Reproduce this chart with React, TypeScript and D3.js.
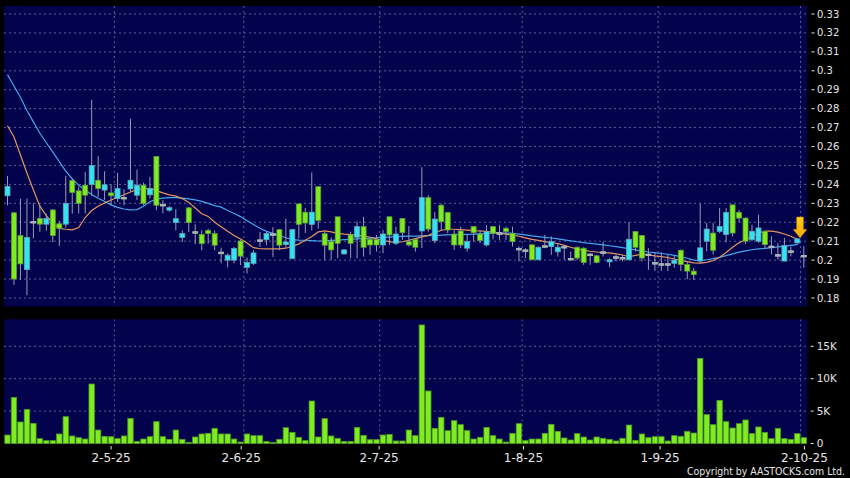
import React from 'react';
import * as d3 from 'd3';

const W = 850;
const H = 478;

// OHLC per trading day (index 0 = first bar)
const opens = [
  0.234, 0.225, 0.213, 0.195, 0.22, 0.222, 0.219, 0.2265, 0.2192, 0.219,
  0.242, 0.2366, 0.2396, 0.24, 0.2422, 0.237, 0.2355, 0.2325, 0.2327, 0.2376,
  0.2343, 0.2396, 0.2345, 0.2547, 0.229, 0.2264, 0.2198, 0.212, 0.2276, 0.2146,
  0.2136, 0.2157, 0.214, 0.2038, 0.2, 0.2, 0.2101, 0.1962, 0.1983, 0.2103,
  0.2108, 0.2135, 0.2161, 0.2082, 0.2009, 0.2297, 0.2253, 0.2189, 0.2388, 0.214,
  0.2098, 0.2229, 0.2033, 0.2133, 0.2121, 0.2177, 0.211, 0.211, 0.208, 0.2229,
  0.2089, 0.222, 0.2098, 0.211, 0.2154, 0.233, 0.2103, 0.229, 0.2252, 0.2138,
  0.2154, 0.2063, 0.2177, 0.2138, 0.208, 0.2177, 0.214, 0.2168, 0.2142, 0.2058,
  0.205, 0.2081, 0.2002, 0.2072, 0.2072, 0.2044, 0.2068, 0.2005, 0.2068, 0.2063,
  0.2028, 0.2023, 0.204, 0.1991, 0.2014, 0.201, 0.2002, 0.2151, 0.213, 0.2028,
  0.1983, 0.1977, 0.1977, 0.1983, 0.2052, 0.1977, 0.1942, 0.1995, 0.21, 0.2143,
  0.2152, 0.2135, 0.2292, 0.2252, 0.2222, 0.2108, 0.21, 0.2152, 0.207, 0.2025,
  0.1995, 0.2045, 0.2091, 0.2021,
];
const highs = [
  0.2445, 0.2255, 0.2325, 0.2325, 0.23, 0.229, 0.2245, 0.227, 0.2208, 0.2445,
  0.243, 0.2387, 0.2466, 0.2847, 0.2549, 0.247, 0.2401, 0.2461, 0.2375, 0.2747,
  0.2478, 0.241, 0.244, 0.2547, 0.2317, 0.2285, 0.227, 0.2157, 0.228, 0.2189,
  0.2157, 0.2165, 0.2157, 0.2066, 0.2035, 0.207, 0.2108, 0.2014, 0.2052, 0.2149,
  0.2152, 0.2175, 0.2165, 0.2219, 0.2165, 0.2297, 0.2275, 0.2463, 0.2388, 0.2149,
  0.212, 0.2229, 0.2058, 0.215, 0.2203, 0.2229, 0.2124, 0.2133, 0.2159, 0.2229,
  0.2177, 0.222, 0.218, 0.2115, 0.2491, 0.2343, 0.2255, 0.2297, 0.2252, 0.2159,
  0.2177, 0.2133, 0.218, 0.2159, 0.2185, 0.218, 0.2186, 0.2177, 0.2177, 0.2072,
  0.2063, 0.2081, 0.2072, 0.2133, 0.2125, 0.209, 0.2081, 0.2046, 0.2072, 0.2068,
  0.2037, 0.2028, 0.2098, 0.201, 0.2028, 0.2028, 0.22, 0.2151, 0.2133, 0.2063,
  0.2038, 0.2042, 0.2028, 0.2021, 0.2056, 0.1995, 0.196, 0.23, 0.2196, 0.2196,
  0.2275, 0.2274, 0.2292, 0.2265, 0.2225, 0.2187, 0.224, 0.2152, 0.2126, 0.209,
  0.2117, 0.2072, 0.2117, 0.2073,
];
const lows = [
  0.229, 0.187, 0.1895, 0.1815, 0.2115, 0.215, 0.2155, 0.2095, 0.2074, 0.2172,
  0.2245, 0.2246, 0.2246, 0.234, 0.2334, 0.2317, 0.229, 0.2308, 0.229, 0.236,
  0.2317, 0.229, 0.2325, 0.2265, 0.2247, 0.2255, 0.2157, 0.2096, 0.2149, 0.2084,
  0.2052, 0.2087, 0.2052, 0.1983, 0.1962, 0.1983, 0.1974, 0.193, 0.1974, 0.207,
  0.2079, 0.2017, 0.2052, 0.2066, 0.2005, 0.2114, 0.2143, 0.2157, 0.2166, 0.2,
  0.2002, 0.201, 0.2028, 0.201, 0.201, 0.2019, 0.2028, 0.2045, 0.2037, 0.208,
  0.208, 0.2107, 0.2072, 0.2045, 0.2063, 0.215, 0.2089, 0.2159, 0.2142, 0.2054,
  0.2063, 0.2045, 0.2098, 0.2089, 0.2072, 0.211, 0.2107, 0.2107, 0.2072, 0.1993,
  0.201, 0.2, 0.2, 0.2063, 0.2028, 0.2019, 0.2002, 0.2, 0.2, 0.1975,
  0.1975, 0.1983, 0.2019, 0.1963, 0.1993, 0.1993, 0.2, 0.2046, 0.1993, 0.1949,
  0.1942, 0.1942, 0.1942, 0.196, 0.1942, 0.1899, 0.1895, 0.1983, 0.2047, 0.203,
  0.2143, 0.2094, 0.2125, 0.22, 0.2085, 0.21, 0.2091, 0.2059, 0.203, 0.2003,
  0.1995, 0.202, 0.2082, 0.196,
];
const closes = [
  0.239, 0.19, 0.198, 0.212, 0.22, 0.219, 0.222, 0.213, 0.2168, 0.23,
  0.2357, 0.23, 0.2343, 0.25, 0.2378, 0.2398, 0.234, 0.2378, 0.2327, 0.2422,
  0.2396, 0.23, 0.2378, 0.229, 0.229, 0.2277, 0.2219, 0.214, 0.2198, 0.2146,
  0.2087, 0.214, 0.2079, 0.2038, 0.2026, 0.2061, 0.2021, 0.1988, 0.2038, 0.2103,
  0.214, 0.2135, 0.2079, 0.2096, 0.2161, 0.2189, 0.2196, 0.2253, 0.221, 0.2079,
  0.2054, 0.2089, 0.2054, 0.2089, 0.2177, 0.2068, 0.208, 0.208, 0.2138, 0.2133,
  0.2138, 0.2145, 0.208, 0.2068, 0.233, 0.2164, 0.2217, 0.2203, 0.2159, 0.208,
  0.208, 0.2098, 0.2145, 0.2103, 0.215, 0.2142, 0.214, 0.2151, 0.2098, 0.2058,
  0.205, 0.2002, 0.2068, 0.2072, 0.2098, 0.2068, 0.2068, 0.2005, 0.2011, 0.1988,
  0.2028, 0.1988, 0.204, 0.2002, 0.2014, 0.201, 0.211, 0.2068, 0.2011, 0.2028,
  0.1983, 0.1977, 0.1977, 0.2, 0.1977, 0.1942, 0.1923, 0.2065, 0.2164, 0.2052,
  0.2178, 0.2252, 0.2143, 0.2222, 0.21, 0.2152, 0.217, 0.2082, 0.207, 0.2025,
  0.2077, 0.2045, 0.2112, 0.2021,
];
// volume in thousands of shares
const volumes = [
  1.31, 7.12, 3.32, 5.27, 3.11, 0.75, 0.44, 0.44, 1.47, 4.14,
  1.16, 0.9, 0.69, 9.18, 2.08, 1.11, 1.05, 0.75, 1.16, 3.88,
  0.33, 0.69, 1.05, 3.37, 1.05, 0.64, 2.08, 0.64, 0.18, 1.0,
  1.47, 1.57, 2.34, 1.47, 1.47, 0.69, 0.23, 1.47, 1.21, 1.21,
  0.33, 0.18, 0.64, 2.44, 1.72, 0.95, 0.44, 6.56, 1.0, 3.83,
  1.16, 0.8, 0.33, 0.33, 2.49, 1.26, 0.59, 0.59, 1.31, 1.41,
  0.39, 0.39, 2.08, 1.21, 18.29, 8.1, 2.34, 4.04, 1.98, 3.52,
  2.91, 1.98, 0.69, 0.95, 2.49, 1.21, 0.69, 0.23, 1.57, 3.06,
  0.44, 0.69, 0.69, 1.57, 2.96, 1.88, 0.85, 0.54, 1.52, 1.0,
  0.54, 1.0, 0.8, 0.64, 0.39, 0.8, 2.85, 0.49, 1.47, 0.9,
  1.05, 1.05, 0.39, 1.21, 1.11, 1.88, 1.62, 13.14, 4.45, 2.91,
  6.66, 3.37, 2.39, 3.06, 3.63, 1.52, 2.55, 1.72, 0.75, 2.34,
  0.75, 0.64, 1.52, 0.9,
];
// moving averages
const maLong = [
  0.298, 0.292, 0.286, 0.279, 0.273, 0.267, 0.262, 0.257, 0.252, 0.247,
  0.243, 0.2395, 0.237, 0.2347, 0.2327, 0.231, 0.2292, 0.2279, 0.227, 0.2265,
  0.2267, 0.2285, 0.2308, 0.2322, 0.2327, 0.233, 0.233, 0.2328, 0.2324, 0.2318,
  0.231, 0.23, 0.2288, 0.228, 0.2262, 0.2246, 0.223, 0.2208, 0.2188, 0.2168,
  0.2152, 0.2141, 0.213, 0.2118, 0.2108, 0.2106, 0.2105, 0.2103, 0.2101, 0.2102,
  0.2104, 0.2105, 0.2108, 0.211, 0.2112, 0.2114, 0.2116, 0.2118, 0.212, 0.2122,
  0.2124, 0.2126, 0.2127, 0.2127, 0.2128, 0.2129, 0.213, 0.2132, 0.2133, 0.2134,
  0.2135, 0.2136, 0.2137, 0.2139, 0.214, 0.2143, 0.2144, 0.2143, 0.2141, 0.2137,
  0.2133, 0.2128, 0.2124, 0.212, 0.2117, 0.2112, 0.2107, 0.2102, 0.2097, 0.2092,
  0.2088, 0.2085, 0.2081, 0.2076, 0.2071, 0.2066, 0.206, 0.2054, 0.2048, 0.2043,
  0.204, 0.2035, 0.2031, 0.2025, 0.2019, 0.201, 0.2, 0.1998, 0.2002, 0.2008,
  0.2015, 0.2024, 0.2033, 0.2042, 0.2049, 0.2055, 0.2059, 0.2062, 0.2066, 0.207,
  0.2074, 0.2078, 0.2082,
];
const maShort = [
  0.271, 0.265, 0.2555, 0.246, 0.237, 0.2285, 0.2235, 0.2195, 0.2168, 0.2163,
  0.216, 0.2172, 0.2225, 0.2262, 0.2285, 0.2302, 0.2318, 0.2332, 0.2345, 0.236,
  0.2372, 0.2378, 0.2378, 0.2367, 0.2355, 0.2345, 0.2338, 0.2325, 0.2305, 0.2275,
  0.2245, 0.2231, 0.22, 0.2176, 0.2152, 0.213, 0.2112, 0.2091, 0.2066, 0.206,
  0.2059, 0.2059, 0.2059, 0.2063, 0.2073, 0.2086, 0.2105, 0.2125, 0.2149, 0.2154,
  0.2149, 0.2141, 0.2137, 0.2135, 0.2132, 0.2127, 0.2121, 0.2112, 0.2104, 0.2098,
  0.2094, 0.2097, 0.2105, 0.2114, 0.2123, 0.2131, 0.2145, 0.2158, 0.2163, 0.2163,
  0.2161, 0.2159, 0.2156, 0.2154, 0.2152, 0.2148, 0.2143, 0.2137, 0.2132, 0.2126,
  0.2118, 0.211, 0.2104, 0.2098, 0.2092, 0.2088, 0.2078, 0.2068, 0.2058, 0.2052,
  0.2047, 0.2043, 0.204, 0.2038, 0.2033, 0.2027, 0.2018, 0.2025, 0.2032, 0.2027,
  0.2022, 0.2019, 0.2014, 0.2006, 0.1998, 0.1992, 0.1986, 0.1984, 0.1988, 0.1998,
  0.2015, 0.204, 0.2068, 0.2092, 0.2108, 0.2125, 0.2143, 0.2153, 0.2153, 0.2148,
  0.2138, 0.2126, 0.211,
];

const priceTicks = [0.18, 0.19, 0.2, 0.21, 0.22, 0.23, 0.24, 0.25, 0.26, 0.27, 0.28, 0.29, 0.3, 0.31, 0.32, 0.33];
const volTicks = [0, 5, 10, 15];
const volTickLabels = ['0', '5K', '10K', '15K'];
const dateLabels = ['2-5-25', '2-6-25', '2-7-25', '1-8-25', '1-9-25', '2-10-25'];
const dateTickPos = [16.0, 36.1, 57.4, 79.7, 100.8, 123.1];
const monthGridPos = [16.5, 36.5, 57.5, 79.5, 100.5, 122.5];
const arrowBar = 122;

const NAVY = '#02024d';
const GRID = '#5e5e96';
const TEXT = '#e6e6e6';
const FONT = 'DejaVu Sans, Verdana, sans-serif';

export default function App() {
  const x = d3.scaleLinear().domain([0, 123]).range([7.5, 803.8]);
  const y = d3.scaleLinear().domain([0.18, 0.33]).range([298, 14]);
  const yv = d3.scaleLinear().domain([0, 15]).range([443.5, 346.3]);

  const P = { l: 4, r: 807, t: 6, b: 306.5 };
  const V = { l: 4, r: 807, t: 319.3, b: 444 };

  const line = d3
    .line<number>()
    .x((_, i) => x(i))
    .y((d) => y(d))
    .curve(d3.curveLinear);

  const bw = 5;
  const idx = d3.range(opens.length);

  const ax = x(arrowBar) + 2.7;
  const aTip = y(highs[arrowBar]) - 0.2;
  const aTop = aTip - 20.7;
  const arrowPath = `M${ax - 3.3},${aTop} L${ax + 3.3},${aTop} L${ax + 3.3},${aTip - 8.4} L${ax + 6.7},${aTip - 8.4} L${ax},${aTip} L${ax - 6.7},${aTip - 8.4} L${ax - 3.3},${aTip - 8.4} Z`;

  return (
    <svg
      width={W}
      height={H}
      viewBox={`0 0 ${W} ${H}`}
      style={{ position: 'fixed', left: 0, top: 0, display: 'block' }}
    >
      <defs>
        <clipPath id="pclip">
          <rect x={P.l} y={P.t} width={P.r - P.l} height={P.b - P.t} />
        </clipPath>
        <clipPath id="vclip">
          <rect x={V.l} y={V.t} width={V.r - V.l} height={V.b - V.t} />
        </clipPath>
        <linearGradient id="arrowGrad" x1="0" y1="0" x2="0" y2="1">
          <stop offset="0%" stopColor="#ffd21a" />
          <stop offset="100%" stopColor="#f5a800" />
        </linearGradient>
      </defs>
      <rect x={0} y={0} width={W} height={H} fill="#000" />

      {/* Price panel */}
      <rect x={P.l} y={P.t} width={P.r - P.l} height={P.b - P.t} fill={NAVY} />
      <g clipPath="url(#pclip)">
        {priceTicks.map((t) => (
          <line key={'pg' + t} x1={P.l} x2={P.r} y1={y(t)} y2={y(t)} stroke={GRID} strokeDasharray="2,3" strokeWidth={1} />
        ))}
        {monthGridPos.map((g) => (
          <line key={'pv' + g} x1={x(g)} x2={x(g)} y1={P.t} y2={P.b} stroke={GRID} strokeDasharray="2,3" strokeWidth={1} />
        ))}
        <path d={line(maLong) || ''} fill="none" stroke="#46a6ec" strokeWidth={1.2} />
        <path d={line(maShort) || ''} fill="none" stroke="#e8955e" strokeWidth={1.2} />
        {idx.map((i) => {
          const o = opens[i];
          const c = closes[i];
          const cx = x(i);
          const up = c > o;
          const doji = c === o;
          const fill = doji ? '#9fb0ac' : up ? '#35e2f2' : '#7eec1e';
          const stroke = doji ? '#b4c0bc' : up ? '#5fa6b8' : '#5f9a3a';
          const top = y(Math.max(o, c));
          const h = Math.max(y(Math.min(o, c)) - top, 1.6);
          return (
            <g key={'c' + i}>
              <line x1={cx} x2={cx} y1={y(highs[i])} y2={y(lows[i])} stroke="#9a9ab6" strokeWidth={1} />
              <rect x={cx - bw / 2} y={doji ? top - 0.8 : top} width={bw} height={h} fill={fill} stroke={stroke} strokeWidth={0.8} />
            </g>
          );
        })}
      </g>
      <path d={arrowPath} fill="url(#arrowGrad)" stroke="#e09000" strokeWidth={0.6} />

      {/* Price axis labels */}
      {priceTicks.map((t) => (
        <g key={'pl' + t}>
          <line x1={811.5} x2={814.5} y1={y(t)} y2={y(t)} stroke={TEXT} strokeWidth={1} />
          <text x={817} y={y(t)} dy="0.35em" fill={TEXT} fontFamily={FONT} fontSize={10}>
            {String(t)}
          </text>
        </g>
      ))}

      {/* Volume panel */}
      <rect x={V.l} y={V.t} width={V.r - V.l} height={V.b - V.t} fill={NAVY} />
      <g clipPath="url(#vclip)">
        {volTicks.filter((t) => t > 0).map((t) => (
          <line key={'vg' + t} x1={V.l} x2={V.r} y1={yv(t)} y2={yv(t)} stroke={GRID} strokeDasharray="2,3" strokeWidth={1} />
        ))}
        {monthGridPos.map((g) => (
          <line key={'vv' + g} x1={x(g)} x2={x(g)} y1={V.t} y2={V.b} stroke={GRID} strokeDasharray="2,3" strokeWidth={1} />
        ))}
        {volumes.map((v, i) => (
          <rect
            key={'v' + i}
            x={x(i) - 2.7}
            y={yv(v)}
            width={5.4}
            height={Math.max(yv(0) - yv(v), 0.5)}
            fill="#7eec1e"
            stroke="#4f9a26"
            strokeWidth={0.8}
          />
        ))}
      </g>
      {volTicks.map((t, k) => (
        <g key={'vl' + t}>
          <line x1={810.7} x2={813.7} y1={yv(t)} y2={yv(t)} stroke={TEXT} strokeWidth={1} />
          <text x={816.7} y={yv(t)} dy="0.35em" fill={TEXT} fontFamily={FONT} fontSize={10.5}>
            {volTickLabels[k]}
          </text>
        </g>
      ))}

      {/* Date axis */}
      {dateLabels.map((lab, k) => (
        <g key={'d' + lab}>
          <line x1={x(dateTickPos[k])} x2={x(dateTickPos[k])} y1={446} y2={449.5} stroke={TEXT} strokeWidth={1} />
          <text x={x(dateTickPos[k])} y={462} textAnchor="middle" fill={TEXT} fontFamily={FONT} fontSize={12}>
            {lab}
          </text>
        </g>
      ))}
      <text
        x={845}
        y={474.8}
        textAnchor="end"
        fill={TEXT}
        fontFamily={FONT}
        fontSize={10.5}
        textLength={158}
        lengthAdjust="spacingAndGlyphs"
      >
        Copyright by AASTOCKS.com Ltd.
      </text>
    </svg>
  );
}
